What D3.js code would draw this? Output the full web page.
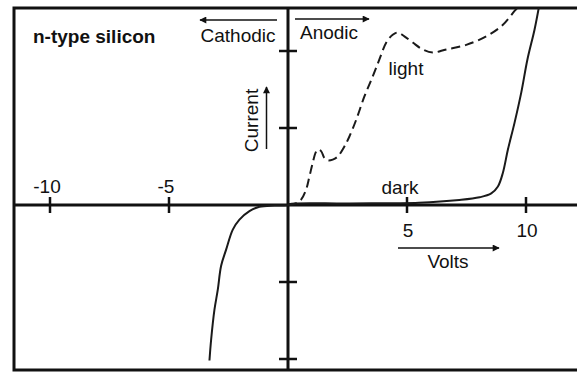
<!DOCTYPE html>
<html>
<head>
<meta charset="utf-8">
<script src="https://cdn.jsdelivr.net/npm/d3@7"></script>
<style>
  html, body { margin: 0; padding: 0; background: #fff; }
  svg { display: block; }
  text { font-family: "Liberation Sans", Arial, Helvetica, sans-serif; fill: #111; }
</style>
</head>
<body>
<svg id="chart" width="577" height="372"></svg>
<script>
// Photocurrent–voltage behaviour of n-type silicon, dark vs. illuminated
const xTickValues = [-10, -5, 5, 10];
const xTickLabels = ["-10", "-5", "5", "10"];
const yTickValues = [2, 1, -1, -2];

// dark current (volts, current in arbitrary units)
const darkVolts = [-3.30, -3.23, -3.09, -2.95, -2.81, -2.60, -2.32, -2.04, -1.62, -1.20, -0.57, 0.00,
                   0.06, 2.58, 5.50, 7.20, 8.05, 8.54, 8.82, 9.03, 9.24, 9.52, 9.80, 10.06, 10.36, 10.56];
const darkCurrent = [-2.02, -1.75, -1.36, -1.10, -0.79, -0.58, -0.32, -0.19, -0.08, -0.023, -0.006, 0.00,
                     0.013, 0.02, 0.03, 0.065, 0.10, 0.15, 0.24, 0.42, 0.72, 1.07, 1.46, 1.89, 2.28, 2.60];

// current under illumination
const lightVolts = [0.00, 0.32, 0.55, 0.76, 0.90, 1.04, 1.16, 1.25, 1.39, 1.53, 1.67, 1.88, 2.09, 2.37,
                    2.58, 2.87, 3.21, 3.56, 3.84, 4.13, 4.40, 4.61, 4.89, 5.24, 5.66, 6.08, 6.65, 7.49,
                    8.33, 9.03, 9.52, 9.76];
const lightCurrent = [0.00, 0.02, 0.07, 0.20, 0.37, 0.55, 0.68, 0.72, 0.70, 0.61, 0.58, 0.59, 0.63, 0.76,
                      0.89, 1.11, 1.41, 1.67, 1.89, 2.11, 2.21, 2.24, 2.19, 2.11, 2.02, 1.98, 2.02, 2.08,
                      2.19, 2.34, 2.52, 2.60];

const svg = d3.select("#chart");
const frame = { left: 14, top: 8, right: 600, bottom: 370 };

const x = d3.scaleLinear().domain([-10, 10]).range([50, 526]);
const y = d3.scaleLinear().domain([2, -2]).range([51, 359]);

const ink = "#111";

// clip for curves
svg.append("defs").append("clipPath").attr("id", "plotClip")
  .append("rect")
  .attr("x", frame.left).attr("y", frame.top)
  .attr("width", frame.right - frame.left).attr("height", frame.bottom - frame.top);

// arrowhead marker
svg.select("defs").append("marker")
  .attr("id", "head")
  .attr("viewBox", "0 0 10 10")
  .attr("refX", 9).attr("refY", 5)
  .attr("markerWidth", 9).attr("markerHeight", 7)
  .attr("markerUnits", "userSpaceOnUse")
  .attr("orient", "auto")
  .append("path").attr("d", "M0,0 L10,5 L0,10 Z").attr("fill", ink);

// outer frame
svg.append("rect")
  .attr("x", frame.left).attr("y", frame.top)
  .attr("width", frame.right - frame.left).attr("height", frame.bottom - frame.top)
  .attr("fill", "none").attr("stroke", ink).attr("stroke-width", 3);

// axes through the origin
svg.append("line")
  .attr("x1", frame.left).attr("x2", frame.right)
  .attr("y1", y(0)).attr("y2", y(0))
  .attr("stroke", ink).attr("stroke-width", 3);
svg.append("line")
  .attr("x1", x(0)).attr("x2", x(0))
  .attr("y1", frame.top).attr("y2", frame.bottom)
  .attr("stroke", ink).attr("stroke-width", 3);

// ticks crossing the axes
svg.append("g").selectAll("line").data(xTickValues).join("line")
  .attr("x1", d => x(d)).attr("x2", d => x(d))
  .attr("y1", y(0) - 8).attr("y2", y(0) + 8)
  .attr("stroke", ink).attr("stroke-width", 2.5);
svg.append("g").selectAll("line").data(yTickValues).join("line")
  .attr("x1", x(0) - 9).attr("x2", x(0) + 9)
  .attr("y1", d => y(d)).attr("y2", d => y(d))
  .attr("stroke", ink).attr("stroke-width", 2.5);

// tick labels: negative above the axis, positive below
svg.append("g").selectAll("text").data(xTickValues).join("text")
  .attr("x", d => d < 0 ? x(d) - 3 : x(d) + 1)
  .attr("y", d => d < 0 ? y(0) - 12 : y(0) + 32)
  .attr("text-anchor", "middle")
  .style("font-size", "19px")
  .text((d, i) => xTickLabels[i]);

// curves
const line = d3.line()
  .x(d => x(d[0])).y(d => y(d[1]))
  .curve(d3.curveCatmullRom.alpha(0.5));

const curves = svg.append("g").attr("clip-path", "url(#plotClip)");
curves.append("path")
  .datum(darkVolts.map((v, i) => [v, darkCurrent[i]]))
  .attr("d", line)
  .attr("fill", "none").attr("stroke", "#1a1a1a").attr("stroke-width", 2);
curves.append("path")
  .datum(lightVolts.map((v, i) => [v, lightCurrent[i]]))
  .attr("d", line)
  .attr("fill", "none").attr("stroke", "#1a1a1a").attr("stroke-width", 2)
  .attr("stroke-dasharray", "9,5");

// text labels
svg.append("text").attr("x", 33).attr("y", 43)
  .style("font-size", "19px").style("font-weight", "bold").text("n-type silicon");
svg.append("text").attr("x", 238).attr("y", 41.5).attr("text-anchor", "middle")
  .style("font-size", "19px").text("Cathodic");
svg.append("text").attr("x", 300).attr("y", 39)
  .style("font-size", "19px").text("Anodic");
svg.append("text").attr("x", 406).attr("y", 75).attr("text-anchor", "middle")
  .style("font-size", "19px").text("light");
svg.append("text").attr("x", 400).attr("y", 194).attr("text-anchor", "middle")
  .style("font-size", "19px").text("dark");
svg.append("text").attr("x", 448).attr("y", 268).attr("text-anchor", "middle")
  .style("font-size", "19px").text("Volts");
svg.append("text")
  .attr("transform", "translate(258,120.5) rotate(-90)")
  .attr("text-anchor", "middle")
  .style("font-size", "19px").text("Current");

// direction arrows
const arrows = [
  [277, 20, 200, 20],
  [295, 19, 369, 19],
  [398, 248, 499, 248],
  [266.5, 149, 266.5, 87]
];
svg.append("g").selectAll("line").data(arrows).join("line")
  .attr("x1", d => d[0]).attr("y1", d => d[1])
  .attr("x2", d => d[2]).attr("y2", d => d[3])
  .attr("stroke", ink).attr("stroke-width", 1.5)
  .attr("marker-end", "url(#head)");
</script>
</body>
</html>
